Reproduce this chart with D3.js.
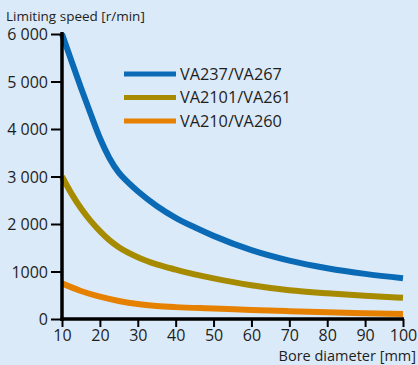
<!DOCTYPE html>
<html><head><meta charset="utf-8">
<script src="https://cdn.jsdelivr.net/npm/d3@7"></script>
<style>
html,body{margin:0;padding:0;background:#dbeaf8;}
svg{display:block;font-family:"Open Sans",sans-serif;}
</style></head>
<body>
<svg id="c" width="418" height="365"></svg>
<script>
const seriesNames = ["VA237/VA267", "VA2101/VA261", "VA210/VA260"];
const seriesColors = ["#0a6ab6", "#a68a00", "#e68000"];
const boreBlue = [10, 12.5, 15, 17.5, 20, 22.5, 25, 27.5, 30, 35, 40, 45, 50, 60, 70, 80, 90, 100];
const speedBlue = [6000, 5430, 4870, 4330, 3810, 3390, 3080, 2870, 2690, 2380, 2130, 1930, 1750, 1450, 1230, 1070, 950, 860];
const boreOlive = [10, 12.5, 15, 17.5, 20, 22.5, 25, 30, 35, 40, 45, 50, 60, 70, 80, 90, 100];
const speedOlive = [3000, 2640, 2330, 2070, 1850, 1660, 1510, 1300, 1150, 1040, 940, 855, 710, 605, 540, 490, 445];
const boreOrange = [10, 15, 20, 25, 30, 35, 40, 50, 60, 70, 80, 90, 100];
const speedOrange = [750, 590, 470, 380, 315, 275, 250, 220, 190, 165, 140, 120, 105];
const xTicks = [10, 20, 30, 40, 50, 60, 70, 80, 90, 100];
const yTicks = [0, 1000, 2000, 3000, 4000, 5000, 6000];
const yTickLabels = ["0", "1000", "2 000", "3 000", "4 000", "5 000", "6 000"];

const svg = d3.select("#c");
const x = d3.scaleLinear().domain([10, 100]).range([62, 403]);
const y = d3.scaleLinear().domain([0, 6000]).range([319, 34]);
const txt = "#1e1e1e";

const series = [
  {name: seriesNames[0], color: seriesColors[0], xs: boreBlue, ys: speedBlue},
  {name: seriesNames[1], color: seriesColors[1], xs: boreOlive, ys: speedOlive},
  {name: seriesNames[2], color: seriesColors[2], xs: boreOrange, ys: speedOrange}
];

const line = d3.line().x(d => x(d[0])).y(d => y(d[1])).curve(d3.curveMonotoneX);
series.slice().reverse().forEach(s => {
  svg.append("path")
    .attr("d", line(s.xs.map((v, i) => [v, s.ys[i]])))
    .attr("fill", "none").attr("stroke", s.color).attr("stroke-width", 6);
});

// axes
const yAxis = svg.append("g").attr("transform", "translate(62,0)")
  .call(d3.axisLeft(y).tickValues(yTicks).tickFormat((d, i) => yTickLabels[i]).tickSize(11).tickPadding(3));
const xAxis = svg.append("g").attr("transform", "translate(0,319)")
  .call(d3.axisBottom(x).tickValues(xTicks).tickSize(8).tickPadding(3));
[yAxis, xAxis].forEach(a => {
  a.select(".domain").remove();
  a.selectAll(".tick line").attr("stroke", "#000").attr("stroke-width", 2);
  a.selectAll(".tick text").attr("fill", txt).style("font-size", "16px").style("font-family", "'Open Sans',sans-serif");
});
yAxis.selectAll(".tick text").attr("dy", "0.36em");
xAxis.selectAll(".tick text").attr("dy", "0.71em");
svg.append("line").attr("x1", 62).attr("x2", 62).attr("y1", 32).attr("y2", 321)
  .attr("stroke", "#000").attr("stroke-width", 3.5);
svg.append("line").attr("x1", 60.5).attr("x2", 404).attr("y1", 319).attr("y2", 319)
  .attr("stroke", "#000").attr("stroke-width", 3.5);

// titles
svg.append("text").attr("x", 6).attr("y", 21).attr("fill", txt)
  .style("font-size", "13.5px").text("Limiting speed [r/min]");
svg.append("text").attr("x", 416).attr("y", 361).attr("text-anchor", "end").attr("fill", txt)
  .style("font-size", "14.5px").text("Bore diameter [mm]");

// legend
const lg = svg.append("g");
series.forEach((s, i) => {
  const ly = 74 + i * 23.5;
  lg.append("line").attr("x1", 124).attr("x2", 176).attr("y1", ly).attr("y2", ly)
    .attr("stroke", s.color).attr("stroke-width", 5);
  lg.append("text").attr("x", 180).attr("y", ly).attr("dy", "0.36em").attr("fill", txt)
    .style("font-size", "16.3px").text(s.name);
});
</script>
</body></html>
